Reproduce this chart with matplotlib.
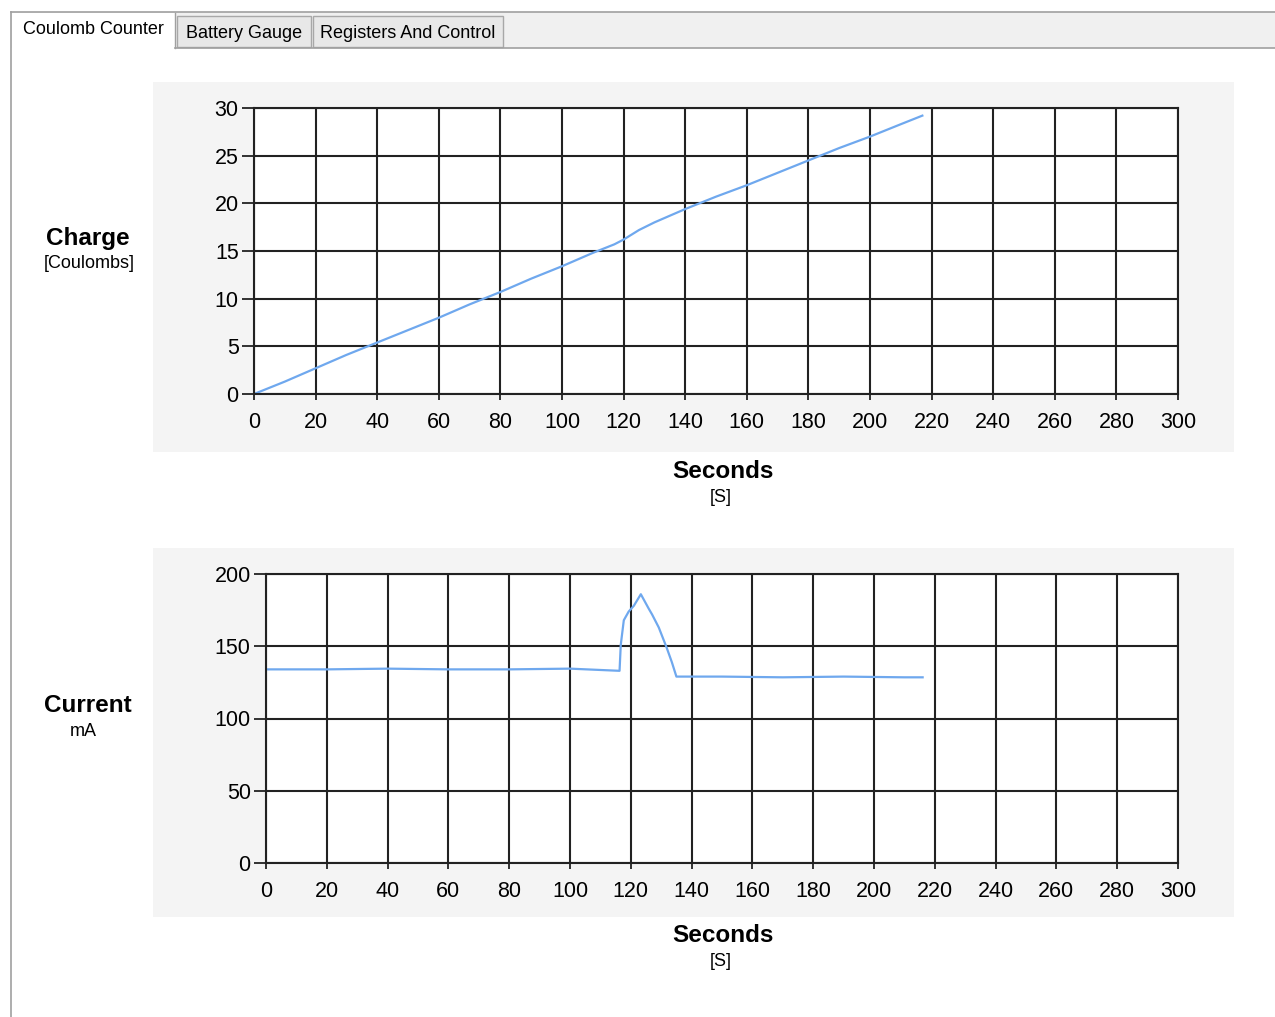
import matplotlib.pyplot as plt
from matplotlib.patches import Rectangle
from matplotlib.lines import Line2D

# ------------------------------------------------------------
# data
# ------------------------------------------------------------
charge_t = [0, 10, 20, 30, 40, 50, 60, 70, 80, 90, 100, 110, 117, 120, 125,
            130, 135, 140, 150, 160, 170, 180, 190, 200, 210, 217]
charge_c = [0.0, 1.3, 2.7, 4.1, 5.4, 6.7, 8.0, 9.4, 10.7, 12.1, 13.4, 14.8, 15.7,
            16.2, 17.2, 18.0, 18.7, 19.4, 20.7, 21.9, 23.2, 24.5, 25.8, 27.0, 28.3, 29.2]

current_t = [0, 20, 40, 60, 80, 100, 116.3, 116.7, 117.7, 119.3, 121, 123.3, 125.9,
             127, 129.2, 131.8, 133.5, 135, 150, 170, 190, 210, 216]
current_ma = [134, 134, 134.5, 134, 134, 134.5, 133, 151, 168, 174, 178, 186, 176,
              172, 163, 149, 139, 129, 129, 128.5, 129, 128.5, 128.5]

tabs = ["Coulomb Counter", "Battery Gauge", "Registers And Control"]
xticks = list(range(0, 301, 20))
charge_yticks = [0, 5, 10, 15, 20, 25, 30]
current_yticks = [0, 50, 100, 150, 200]

W, H = 1275, 1017
LINE_COLOR = "#6fa8ee"
FONT = "Liberation Sans"


def fx(x):
    return x / W


def fy(y):
    return 1 - y / H


def rect(fig, x0, y0, x1, y1, **kw):
    fig.add_artist(Rectangle((fx(x0), fy(y1)), fx(x1) - fx(x0), fy(y0) - fy(y1),
                             transform=fig.transFigure, **kw))


def hline(fig, x0, x1, y, **kw):
    fig.add_artist(Line2D([fx(x0), fx(x1)], [fy(y), fy(y)], transform=fig.transFigure, **kw))


def vline(fig, x, y0, y1, **kw):
    fig.add_artist(Line2D([fx(x), fx(x)], [fy(y0), fy(y1)], transform=fig.transFigure, **kw))


fig = plt.figure(figsize=(W / 100, H / 100), dpi=100)
fig.patch.set_facecolor("white")

# ---- tab strip ----
rect(fig, 11, 12, W, 48, facecolor="#f0f0f0", edgecolor="none")
hline(fig, 11, W, 12, color="#a0a0a0", lw=1.2)
hline(fig, 175, W, 48, color="#a0a0a0", lw=1.2)
vline(fig, 11, 12, H, color="#a0a0a0", lw=1.2)
rect(fig, 12, 13, 175, 49, facecolor="white", edgecolor="none")
vline(fig, 175, 13, 48, color="#a0a0a0", lw=1.0)
tab_x = [(177, 311), (313, 503)]
for (x0, x1), name in zip(tab_x, tabs[1:]):
    rect(fig, x0, 16, x1, 47, facecolor="#e8e8e8", edgecolor="#a8a8a8", lw=1.0)
    fig.text(fx((x0 + x1) / 2), fy(33), name, ha="center", va="center",
             fontsize=13, family=FONT, color="black")
fig.text(fx(93), fy(30), tabs[0], ha="center", va="center",
         fontsize=13, family=FONT, color="black")

# ---- chart panels (behind the axes) ----
rect(fig, 153, 82, 1234, 452, facecolor="#f4f4f4", edgecolor="none", zorder=-10)
rect(fig, 153, 548, 1234, 917, facecolor="#f4f4f4", edgecolor="none", zorder=-10)


def make_axes(x0, y0, x1, y1, yticks, ymax):
    ax = fig.add_axes([fx(x0), fy(y1), fx(x1) - fx(x0), fy(y0) - fy(y1)])
    ax.set_facecolor("white")
    ax.set_xlim(0, 300)
    ax.set_ylim(0, ymax)
    ax.set_xticks(xticks)
    ax.set_yticks(yticks)
    ax.grid(True, color="#222222", lw=1.5)
    ax.set_axisbelow(True)
    for s in ax.spines.values():
        s.set_color("#222222")
        s.set_linewidth(1.5)
    ax.tick_params(axis="y", length=9, width=1.3, color="#222222", pad=2,
                   labelsize=15.5)
    ax.tick_params(axis="x", length=4, width=1.3, color="#222222", pad=9,
                   labelsize=15.5)
    for lab in ax.get_xticklabels() + ax.get_yticklabels():
        lab.set_family(FONT)
    return ax


ax1 = make_axes(254, 108, 1178, 394, charge_yticks, 30)
ax1.plot(charge_t, charge_c, color=LINE_COLOR, lw=1.6)

ax2 = make_axes(266, 574, 1178, 863, current_yticks, 200)
ax2.plot(current_t, current_ma, color=LINE_COLOR, lw=1.6)

# ---- axis titles ----
fig.text(fx(88), fy(238), "Charge", ha="center", va="center", fontsize=17.5,
         fontweight="bold", family=FONT)
fig.text(fx(89), fy(263), "[Coulombs]", ha="center", va="center", fontsize=13,
         family=FONT)
fig.text(fx(88), fy(706), "Current", ha="center", va="center", fontsize=17.5,
         fontweight="bold", family=FONT)
fig.text(fx(83), fy(732), "mA", ha="center", va="center", fontsize=13,
         family=FONT)
for ys in (472, 936):
    fig.text(fx(723), fy(ys), "Seconds", ha="center", va="center", fontsize=17.5,
             fontweight="bold", family=FONT)
    fig.text(fx(721), fy(ys + 25), "[S]", ha="center", va="center", fontsize=13,
             family=FONT)

fig.savefig("out.png", dpi=100)
